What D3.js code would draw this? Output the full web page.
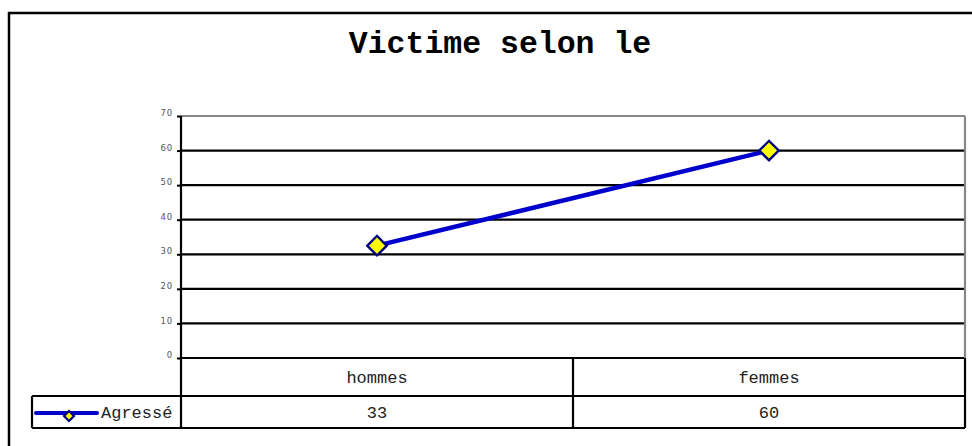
<!DOCTYPE html>
<html>
<head>
<meta charset="utf-8">
<script src="https://cdn.jsdelivr.net/npm/d3@7"></script>
<style>
  html, body { margin: 0; padding: 0; background: #fff; overflow: hidden; }
  svg { display: block; }
</style>
</head>
<body>
<div id="chart"></div>
<script>
// data
const categories = ["hommes", "femmes"];
const seriesName = "Agressé";
const values = [32.5, 60];
const yTickValues = [0, 10, 20, 30, 40, 50, 60, 70];
const title = "Victime selon le";

const width = 972, height = 446;
const plot = { left: 181, right: 965, top: 116, bottom: 358 };
const rowH = { cat: 38, data: 32 };
const legendLeft = 32;

const svg = d3.select("#chart").append("svg")
  .attr("width", width)
  .attr("height", height);

// outer frame (runs off the right and bottom edges)
svg.append("rect")
  .attr("x", 9).attr("y", 13)
  .attr("width", 990).attr("height", 460)
  .attr("fill", "none")
  .attr("stroke", "#000")
  .attr("stroke-width", 2.5);

svg.append("text")
  .attr("x", 500).attr("y", 53)
  .attr("text-anchor", "middle")
  .attr("font-family", "'Liberation Mono', 'Courier New', monospace")
  .attr("font-weight", "bold")
  .attr("font-size", 31.5)
  .text(title);

const x = d3.scaleBand().domain(categories).range([plot.left, plot.right]).padding(0);
const y = d3.scaleLinear().domain([0, 70]).range([plot.bottom, plot.top]);

// horizontal gridlines
svg.append("g").selectAll("line")
  .data(yTickValues)
  .join("line")
  .attr("x1", plot.left).attr("x2", plot.right)
  .attr("y1", d => y(d)).attr("y2", d => y(d))
  .attr("stroke", d => d === 70 ? "#888" : "#000")
  .attr("stroke-width", 2.2);

// right border of plot area
svg.append("line")
  .attr("x1", plot.right).attr("x2", plot.right)
  .attr("y1", y(70)).attr("y2", y(0))
  .attr("stroke", "#888").attr("stroke-width", 2.2);

// y axis
const yAxis = d3.axisLeft(y).tickValues(yTickValues).tickSize(4).tickPadding(4);
const gy = svg.append("g")
  .attr("transform", `translate(${plot.left},0)`)
  .call(yAxis);
gy.select(".domain").remove();
gy.selectAll(".tick line").attr("stroke", "#000").attr("stroke-width", 2);
gy.selectAll(".tick text")
  .attr("dy", "-0.05em")
  .attr("fill", "#555")
  .attr("font-family", "'DejaVu Sans', sans-serif")
  .attr("font-size", 8.5)
  .attr("letter-spacing", 0.8);

// data table below the plot
const tableTop = plot.bottom;
const catBottom = tableTop + rowH.cat;
const dataBottom = catBottom + rowH.data;
const table = svg.append("g")
  .attr("stroke", "#000")
  .attr("stroke-width", 2.2);

table.append("line")
  .attr("x1", legendLeft).attr("x2", plot.right)
  .attr("y1", catBottom).attr("y2", catBottom);
table.append("line")
  .attr("x1", legendLeft).attr("x2", plot.right)
  .attr("y1", dataBottom).attr("y2", dataBottom);
table.append("line")
  .attr("x1", legendLeft).attr("x2", legendLeft)
  .attr("y1", catBottom).attr("y2", dataBottom);

// column separators, including the left axis running down through the table
const edges = categories.map(c => x(c)).concat([plot.right]);
table.selectAll("line.col")
  .data(edges)
  .join("line")
  .attr("class", "col")
  .attr("x1", d => d).attr("x2", d => d)
  .attr("y1", (d, i) => i === 0 ? y(70) : tableTop)
  .attr("y2", dataBottom);

const cellFont = "'Liberation Mono', 'Courier New', monospace";
svg.append("g").selectAll("text")
  .data(categories)
  .join("text")
  .attr("x", d => x(d) + x.bandwidth() / 2)
  .attr("y", tableTop + rowH.cat / 2 + 6)
  .attr("text-anchor", "middle")
  .attr("font-family", cellFont)
  .attr("font-size", 17)
  .attr("fill", "#222")
  .text(d => d);

svg.append("g").selectAll("text")
  .data(values)
  .join("text")
  .attr("x", (d, i) => x(categories[i]) + x.bandwidth() / 2)
  .attr("y", catBottom + rowH.data / 2 + 6)
  .attr("text-anchor", "middle")
  .attr("font-family", cellFont)
  .attr("font-size", 17)
  .attr("fill", "#222")
  .text(d => d3.format(".0f")(d));

// legend cell
const legY = catBottom + rowH.data / 2 + 1;
svg.append("line")
  .attr("x1", 36).attr("x2", 97)
  .attr("y1", legY).attr("y2", legY)
  .attr("stroke", "#0000cc").attr("stroke-width", 4)
  .attr("stroke-linecap", "round");
svg.append("path")
  .attr("d", d3.symbol(d3.symbolSquare, 50)())
  .attr("transform", `translate(69,${legY + 3}) rotate(45)`)
  .attr("fill", "#ffff00").attr("stroke", "#000080").attr("stroke-width", 2.2);
svg.append("text")
  .attr("x", 101).attr("y", legY + 5)
  .attr("font-family", cellFont)
  .attr("font-size", 17)
  .attr("fill", "#222")
  .text(seriesName);

// series line and markers
const pts = values.map((v, i) => [x(categories[i]) + x.bandwidth() / 2, y(v)]);
svg.append("path")
  .datum(pts)
  .attr("d", d3.line())
  .attr("fill", "none")
  .attr("stroke", "#0000cc")
  .attr("stroke-width", 4.5);

svg.append("g").selectAll("path")
  .data(pts)
  .join("path")
  .attr("d", d3.symbol(d3.symbolSquare, 190)())
  .attr("transform", d => `translate(${d[0]},${d[1]}) rotate(45)`)
  .attr("fill", "#ffff00")
  .attr("stroke", "#000080")
  .attr("stroke-width", 2.4);
</script>
</body>
</html>
